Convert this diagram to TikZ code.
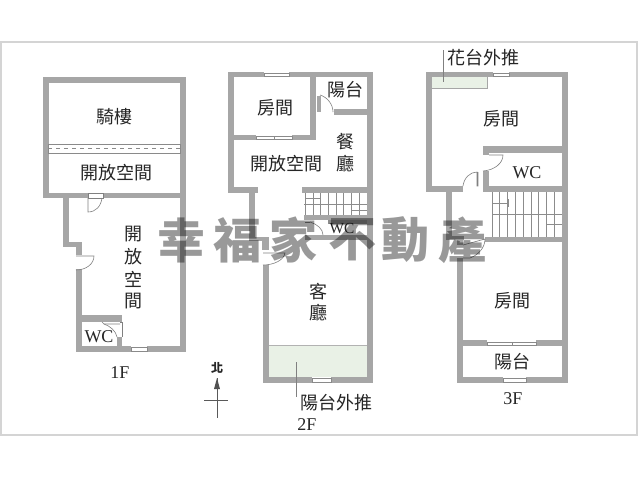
\documentclass[tikz,border=0pt]{standalone}
\usepackage{fontspec}
\setmainfont{Liberation Serif}
\newfontfamily\cjk{Noto Sans CJK TC}
\newfontfamily\stampfont{Noto Sans CJK TC Black}
\definecolor{wallc}{HTML}{A6A6A6}
\definecolor{edgec}{HTML}{8C8C8C}
\definecolor{thinc}{HTML}{8A8A8A}
\definecolor{patioc}{HTML}{E9F1E6}
\definecolor{framec}{HTML}{D4D4D4}
\definecolor{labelc}{HTML}{262626}
\tikzset{
  room/.style={inner sep=0pt,text=labelc,font=\cjk\fontsize{13.5}{14}\selectfont},
  roomlatin/.style={inner sep=0pt,text=labelc,font=\fontsize{13.5}{14}\selectfont},
  stamp/.style={inner sep=0pt,text=black,text opacity=.4,font=\stampfont\fontsize{36}{38}\selectfont},
  thin line/.style={draw=thinc,line width=.4pt},
  stairline/.style={draw=gray!90,line width=.4pt},
  leader/.style={draw=gray,line width=.5pt},
  door/.style={draw=gray,line width=.45pt}
}
\newcommand\wl[4]{\fill[wallc] (#1,#2) rectangle (#3,#4);}
\newcommand\wn[4]{\draw[thinc,line width=.4pt,fill=white] (#1,#2) rectangle (#3,#4);}
\begin{document}
\begin{tikzpicture}[x=0.75pt,y=-0.75pt]
\useasboundingbox (0,0) rectangle (640,480);
\fill[white] (0,0) rectangle (640,480);
\draw[framec,line width=.8pt] (1,42) rectangle (637,435);

% patios
\fill[patioc] (269,345) rectangle (367,377);
\draw[gray!60,line width=.5pt] (269,345) -- (367,345);
\fill[patioc] (432,77) rectangle (487,88);
\draw[gray!70,line width=.4pt] (432,88) -- (487,88) -- (487,77);

% ---------- 1F walls
\wl{43}{77}{186}{83}
\wl{43}{77}{49}{198}
\wl{180}{77}{186}{352}
\wl{43}{193}{88}{198}
\wl{103}{193}{186}{198}
\wl{63}{198}{69}{247}
\wl{63}{242}{82}{247}
\wl{76}{242}{82}{255}
\wl{76}{269}{82}{352}
\wl{76}{346}{131}{352}
\wl{147}{346}{186}{352}
\wl{82}{315}{122}{322}
\wl{117}{337}{122}{346}
% 1F strip
\draw[thinc,line width=.4pt,fill=white] (48,144) rectangle (180,153);
\draw[thinc,line width=.4pt,dashed] (48,148.5) -- (180,148.5);
% 1F window
\wn{131}{347}{147}{351}
% 1F doors
\draw[door] (88,193) rectangle (103,198);
\draw[door] (88,198) -- (88,212) .. controls (96,212) and (101,206) .. (102,198);
\draw[door] (76,256) -- (94,256) .. controls (94,264) and (86,270) .. (76,270);
\draw[door] (102,322) -- (104,324) -- (120,324);
\draw[door] (104,324) .. controls (110,326) and (116,331) .. (117,337);
\draw[door] (120,322) -- (122,322) -- (122,337);

% ---------- 2F walls
\wl{228}{72}{264}{77}
\wl{289}{72}{373}{77}
\wl{228}{72}{234}{193}
\wl{367}{72}{373}{383}
\wl{310}{72}{316}{140}
\wl{234}{135}{256}{140}
\wl{292}{135}{316}{140}
\wl{334}{109}{367}{115}
\wl{228}{187}{258}{193}
\wl{302}{187}{373}{193}
\wl{249}{193}{255}{241}
\wl{249}{237}{269}{241}
\wl{262}{241}{269}{250}
\wl{263}{265}{269}{383}
\wl{263}{377}{312}{383}
\wl{331}{377}{373}{383}
\wl{304}{215}{367}{220}
\fill[edgec] (328,220) rectangle (367,224);
\wl{305}{235}{367}{240}
\wl{317}{96}{321}{112}
% 2F windows
\wn{264}{73}{289}{76}
\wn{256}{136}{274}{139}
\wn{274}{136}{292}{139}
\wn{312}{378}{331}{382}
% 2F doors
\draw[door] (320,95) .. controls (327,97) and (333,104) .. (333,112);
\draw[door] (310,222) -- (305,222);
\draw[door] (310,222) .. controls (317,224) and (323,229) .. (323,235);
\draw[door] (263,253) -- (285,253) .. controls (284,260) and (274,265) .. (263,265);
% 2F stairs
\foreach \xpos in {305,313,320,328,336,343,351,359}
  \draw[stairline] (\xpos,193) -- (\xpos,215);
\draw[stairline] (304,204) -- (367,204);
\draw[stairline,-|] (305,198) -- (321,198);
\draw[stairline,|-] (351,210) -- (367,210);

% ---------- 3F walls
\wl{426}{72}{493}{77}
\wl{509}{72}{568}{77}
\wl{426}{72}{432}{192}
\wl{562}{72}{568}{383}
\wl{426}{186}{463}{192}
\wl{483}{186}{562}{192}
\wl{483}{171}{489}{192}
\wl{483}{146}{562}{153}
\wl{483}{153}{489}{155}
\wl{446}{192}{452}{240}
\wl{446}{236}{464}{240}
\wl{485}{237}{562}{242}
\wl{457}{240}{463}{245}
\wl{457}{258}{463}{383}
\wl{457}{377}{503}{383}
\wl{526}{377}{568}{383}
\wl{463}{340}{487}{346}
\wl{536}{340}{562}{346}
% 3F windows
\wn{493}{73}{509}{76}
\wn{487}{342}{512}{345}
\wn{512}{342}{536}{345}
\wn{503}{378}{526}{382}
% 3F doors
\draw[door] (463,186) .. controls (464,178) and (470,172) .. (477,172) -- (477,186) -- (478,186) -- (478,172);
\draw[door] (489,155) -- (503,155) .. controls (503,163) and (495,170) .. (483,171);
\draw[door] (463,245) -- (485,239) .. controls (485,248) and (478,255) .. (470,258) -- (463,258);
% 3F stairs
\foreach \xpos in {492,499,507,515,523,531,538,546,554}
  \draw[stairline] (\xpos,192) -- (\xpos,237);
\draw[stairline] (492,214) -- (562,214);
\draw[stairline,-|] (492,203) -- (509,203);
\draw[stairline,|-] (546,224) -- (562,224);

% leaders
\coordinate (lead2a) at (296,362);
\coordinate (lead2b) at (296,397);
\draw[leader] (lead2a) -- (lead2b);
\coordinate (lead3a) at (443,50);
\coordinate (lead3b) at (443,82);
\draw[leader] (lead3a) -- (lead3b);

% labels 1F
\node[room] (qilou) at (114,117) {騎樓};
\node[room] (open1) at (116,173) {開放空間};
\node[room] (v1) at (133,234) {開};
\node[room] (v2) at (133,257) {放};
\node[room] (v3) at (133,279) {空};
\node[room] (v4) at (133,301) {間};
\node[roomlatin] (wc1) at (99,337) {WC};
\node[roomlatin] (f1) at (120,373) {1F};
% labels 2F
\node[room] (room2) at (275,108) {房間};
\node[room] (balc2) at (345,90) {陽台};
\node[room] (din1) at (345,142) {餐};
\node[room] (din2) at (345,164) {廳};
\node[room] (open2) at (286,164) {開放空間};
\node[roomlatin,font=\fontsize{11.5}{12}\selectfont] (wc2) at (342,229) {WC};
\node[room] (liv1) at (318,292) {客};
\node[room] (liv2) at (318,313) {廳};
\node[room] (push2) at (336,403) {陽台外推};
\node[roomlatin] (f2) at (307,425) {2F};
% labels 3F
\node[room] (push3) at (483,58) {花台外推};
\node[room] (room3a) at (501,119) {房間};
\node[roomlatin] (wc3) at (527,173) {WC};
\node[room] (room3b) at (512,301) {房間};
\node[room] (balc3) at (512,362) {陽台};
\node[roomlatin] (f3) at (513,399) {3F};

% north arrow
\node[room,font=\cjk\bfseries\fontsize{9}{10}\selectfont] (north) at (217,368) {北};
\coordinate (ntop) at (217,378);
\coordinate (nbot) at (217,418);
\coordinate (nl) at (204,400);
\coordinate (nr) at (228,400);
\draw[gray!70!black,line width=.5pt] (ntop) -- (nbot);
\draw[gray!70!black,line width=.4pt] (nl) -- (nr);
\fill[labelc!80] (217,378) -- (220,389) -- (214,389) -- cycle;

% watermark
\node[stamp] (m1) at (181,240) {幸};
\node[stamp] (m2) at (237,240) {福};
\node[stamp] (m3) at (293,240) {家};
\node[stamp] (m4) at (352,240) {不};
\node[stamp] (m5) at (405,240) {動};
\node[stamp] (m6) at (462,240) {產};
\end{tikzpicture}
\end{document}
